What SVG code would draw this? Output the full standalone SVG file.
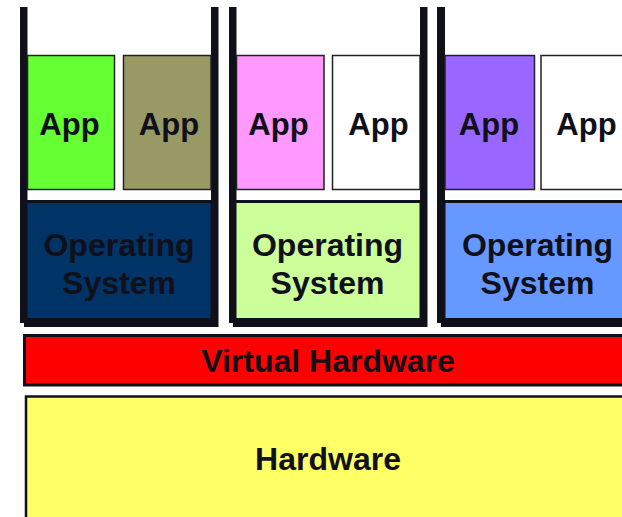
<svg xmlns="http://www.w3.org/2000/svg" width="622" height="517" viewBox="0 0 622 517">
<style>
.bar{fill:#10101a}
.app{stroke:#222;stroke-width:1.5}
.os{stroke:#10101a;stroke-width:3}
.t{font-family:"Liberation Sans",Arial,sans-serif;font-weight:bold;font-size:32px;fill:#10101a;text-anchor:middle}
.a{font-size:31px}
</style>
<rect width="622" height="517" fill="#fff"/>
<g id="vm1">
<rect class="bar" x="20" y="7" width="7.5" height="316"/>
<rect class="bar" x="211" y="7" width="7.5" height="320"/>
<rect class="bar" x="24" y="319" width="194" height="8"/>
<rect class="os" x="26" y="201.5" width="186" height="118" fill="#003366"/>
<text class="t" x="119" y="256">Operating</text>
<text class="t" x="119" y="294">System</text>
</g>
<g id="vm2">
<rect class="bar" x="229" y="7" width="7.5" height="316"/>
<rect class="bar" x="420" y="7" width="7.5" height="320"/>
<rect class="bar" x="233" y="319" width="194" height="8"/>
<rect class="os" x="235" y="201.5" width="186" height="118" fill="#CCFF99"/>
<text class="t" x="327.5" y="256">Operating</text>
<text class="t" x="327.5" y="294">System</text>
</g>
<g id="vm3">
<rect class="bar" x="437" y="7" width="8" height="316"/>
<rect class="bar" x="441" y="319" width="190" height="8"/>
<rect class="os" x="444" y="201.5" width="190" height="118" fill="#6699FF"/>
<text class="t" x="537.5" y="256">Operating</text>
<text class="t" x="537.5" y="294">System</text>
</g>
<g id="app1"><rect class="app" x="27.5" y="55.5" width="87" height="134" fill="#66FF33"/><text class="t a" x="69.5" y="135">App</text></g>
<g id="app2"><rect class="app" x="123.5" y="55.5" width="87.5" height="134" fill="#999966"/><text class="t a" x="169" y="135">App</text></g>
<g id="app3"><rect class="app" x="236.5" y="55.5" width="87.5" height="134" fill="#FF99FF"/><text class="t a" x="278.5" y="135">App</text></g>
<g id="app4"><rect class="app" x="332.5" y="55.5" width="87.5" height="134" fill="#FFFFFF"/><text class="t a" x="378.5" y="135">App</text></g>
<g id="app5"><rect class="app" x="445" y="55.5" width="89.5" height="134" fill="#9966FF"/><text class="t a" x="489" y="135">App</text></g>
<g id="app6"><rect class="app" x="541" y="55.5" width="95" height="134" fill="#FFFFFF"/><text class="t a" x="586.5" y="135">App</text></g>
<g id="virtual-hardware">
<rect x="24.5" y="335.5" width="620" height="49.5" fill="#FF0000" stroke="#10101a" stroke-width="3"/>
<text class="t" x="328" y="372">Virtual Hardware</text>
</g>
<g id="hardware">
<rect x="26" y="396.5" width="620" height="140" fill="#FFFF66" stroke="#10101a" stroke-width="2.5"/>
<text class="t" x="328" y="470">Hardware</text>
</g>
<g id="connectors"></g>
</svg>
